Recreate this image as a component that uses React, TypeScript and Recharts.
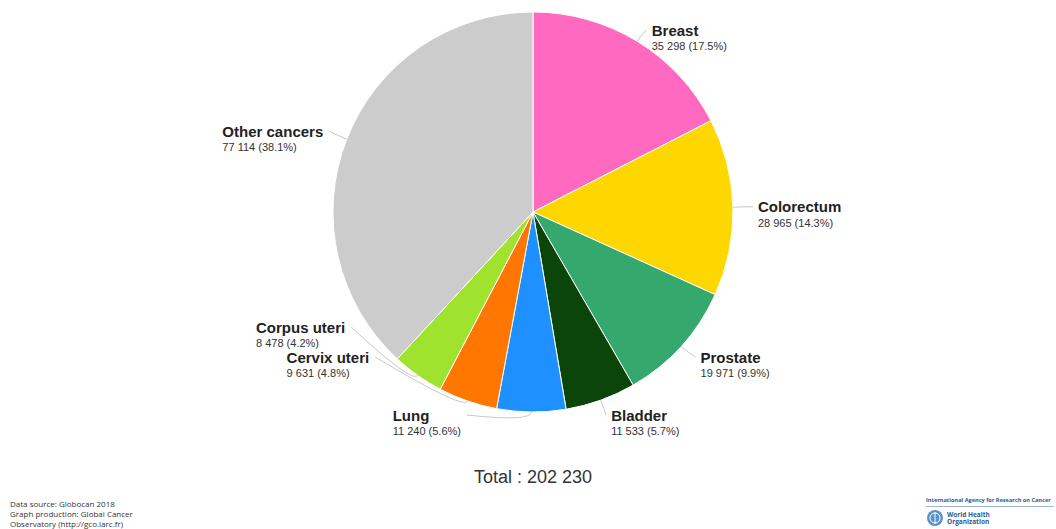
import React from "react";
import { PieChart, Pie, Cell } from "recharts";

// ---------------------------------------------------------------------------
// Data (Globocan 2018, new cases)
// ---------------------------------------------------------------------------

const cancerSites = [
  "Breast",
  "Colorectum",
  "Prostate",
  "Bladder",
  "Lung",
  "Cervix uteri",
  "Corpus uteri",
  "Other cancers",
];
const newCases = [35298, 28965, 19971, 11533, 11240, 9631, 8478, 77114];
const sliceColors = [
  "#FF69C0",
  "#FFD700",
  "#35A86E",
  "#0B450A",
  "#1E90FF",
  "#FF7700",
  "#A0E32E",
  "#CCCCCC",
];

const totalCases = newCases.reduce((a, b) => a + b, 0);

const fmt = (n: number) => n.toString().replace(/\B(?=(\d{3})+(?!\d))/g, " ");
const pct = (n: number) => ((n / totalCases) * 100).toFixed(1) + "%";

const chartData = cancerSites.map((name, i) => ({ name, value: newCases[i] }));

const FONT = "'Liberation Sans', Arial, sans-serif";

// ---------------------------------------------------------------------------
// Label layout (labels around the pie, pushed apart when they collide)
// ---------------------------------------------------------------------------

let measureCtx: CanvasRenderingContext2D | null = null;
function textWidth(text: string, font: string) {
  if (!measureCtx) measureCtx = document.createElement("canvas").getContext("2d");
  if (!measureCtx) return text.length * 7;
  measureCtx.font = font;
  return measureCtx.measureText(text).width;
}

interface LabelPos {
  mid: number;
  right: boolean;
  ix: number;
  ideal: number;
  slot: number;
  x: number;
  y: number; // centre of the name line
  moved: boolean;
}

function layoutLabels(cx: number, cy: number, r: number): LabelPos[] {
  const R = r + 22;
  const gap = 30;
  const top = cy - r + 18;
  const slotBottom = cy + r - 25;
  const drawBottom = cy + r + 3;
  let cum = 0;
  const items: LabelPos[] = newCases.map((v) => {
    const mid = ((cum + v / 2) / totalCases) * Math.PI * 2;
    cum += v;
    const s = Math.sin(mid);
    const c = Math.cos(mid);
    const ideal = cy - R * c;
    return {
      mid,
      right: s >= 0,
      ix: cx + R * s,
      ideal,
      slot: Math.min(Math.max(ideal, top), slotBottom),
      x: cx + R * s,
      y: ideal,
      moved: false,
    };
  });

  [true, false].forEach((side) => {
    const group = items.filter((it) => it.right === side).sort((a, b) => a.ideal - b.ideal);
    for (let k = group.length - 2; k >= 0; k--) {
      if (group[k].slot > group[k + 1].slot - gap) {
        group[k].slot = group[k + 1].slot - gap;
        group[k].moved = true;
      }
    }
    for (let k = 1; k < group.length; k++) {
      if (group[k].slot < group[k - 1].slot + gap) group[k].slot = group[k - 1].slot + gap;
    }
    group.forEach((it) => {
      const clampedLow = !it.moved && it.ideal > slotBottom;
      it.y = clampedLow ? Math.min(it.ideal, drawBottom) : it.slot;
      if (it.moved || clampedLow) {
        const dy = it.y + 8 - cy;
        const dx = Math.sqrt(Math.max(0, R * R - dy * dy));
        it.x = it.right ? Math.max(it.ix, cx + dx) : Math.min(it.ix, cx - dx);
      }
    });
  });
  return items;
}

function renderLabel(props: any) {
  const { cx, cy, outerRadius, index } = props;
  const pos = layoutLabels(Number(cx), Number(cy), Number(outerRadius))[index];
  const name = cancerSites[index];
  const value = `${fmt(newCases[index])} (${pct(newCases[index])})`;
  const nameY = pos.y;
  const valueY = pos.y + 16;

  const nameW = textWidth(name, `bold 15px ${FONT}`);
  const valueW = textWidth(value, `11px ${FONT}`);
  const blockW = Math.max(nameW, valueW);
  const textX = pos.right ? pos.x + 3 : pos.x - 3 - blockW;
  const attachX = pos.right ? textX - 5 : textX + blockW + 6;

  const s = Math.sin(pos.mid);
  const c = Math.cos(pos.mid);
  const r = Number(outerRadius);
  const ex = cx + r * s;
  const ey = cy - r * c;
  const qx = cx + (r + 10) * s;
  const qy = cy - (r + 10) * c;

  return (
    <g key={`lbl-${index}`}>
      <path
        d={`M${attachX},${nameY} Q${qx},${qy} ${ex},${ey}`}
        fill="none"
        stroke="#C8C8C8"
        strokeWidth={1}
      />
      <text
        x={textX}
        y={nameY}
        dominantBaseline="central"
        fontFamily={FONT}
        fontSize={15}
        fontWeight="bold"
        fill="#222"
      >
        {name}
      </text>
      <text
        x={textX}
        y={valueY}
        dominantBaseline="central"
        fontFamily={FONT}
        fontSize={11}
        fill="#333"
      >
        {value}
      </text>
    </g>
  );
}

// ---------------------------------------------------------------------------
// App
// ---------------------------------------------------------------------------

export default function App() {
  return (
    <div style={{ position: "relative", width: 1056, height: 529, overflow: "hidden", background: "#fff" }}>
      <style>{"body{margin:0}"}</style>
      <PieChart width={1056} height={529} margin={{ top: 0, right: 0, bottom: 0, left: 0 }}>
        <Pie
          data={chartData}
          dataKey="value"
          nameKey="name"
          cx={533}
          cy={212}
          outerRadius={200}
          startAngle={90}
          endAngle={-270}
          stroke="#fff"
          strokeWidth={1}
          label={renderLabel}
          labelLine={false}
          isAnimationActive={false}
        >
          {chartData.map((d, i) => (
            <Cell key={d.name} fill={sliceColors[i]} />
          ))}
        </Pie>
      </PieChart>

      <div
        style={{
          position: "absolute",
          left: 0,
          width: 1066,
          top: 467,
          textAlign: "center",
          fontFamily: FONT,
          fontSize: 18,
          color: "#333",
        }}
      >
        Total : {fmt(totalCases)}
      </div>

      <div
        style={{
          position: "absolute",
          left: 10,
          top: 499,
          fontFamily: "'Open Sans', sans-serif",
          fontSize: 8,
          lineHeight: "10px",
          color: "#333",
        }}
      >
        <div>Data source: Globocan 2018</div>
        <div>Graph production: Global Cancer</div>
        <div>Observatory (http://gco.iarc.fr)</div>
      </div>

      <div
        style={{
          position: "absolute",
          left: 926,
          top: 496,
          width: 128,
          fontFamily: "'Open Sans', sans-serif",
          color: "#2A5A9C",
        }}
      >
        <div style={{ fontSize: 5.6, fontWeight: "bold", whiteSpace: "nowrap", borderBottom: "1px solid #9fb6d3", paddingBottom: 2 }}>
          International Agency for Research on Cancer
        </div>
        <div style={{ display: "flex", alignItems: "center", marginTop: 2 }}>
          <svg width={18} height={18}>
            <circle cx={9} cy={9} r={8} fill="#5B92C9" />
            <circle cx={9} cy={9} r={5} fill="none" stroke="#fff" strokeWidth={1} />
            <line x1={9} y1={3} x2={9} y2={15} stroke="#fff" strokeWidth={1} />
          </svg>
          <div style={{ fontSize: 6.5, fontWeight: "bold", lineHeight: "7px", marginLeft: 3 }}>
            World Health
            <br />
            Organization
          </div>
        </div>
      </div>
    </div>
  );
}
